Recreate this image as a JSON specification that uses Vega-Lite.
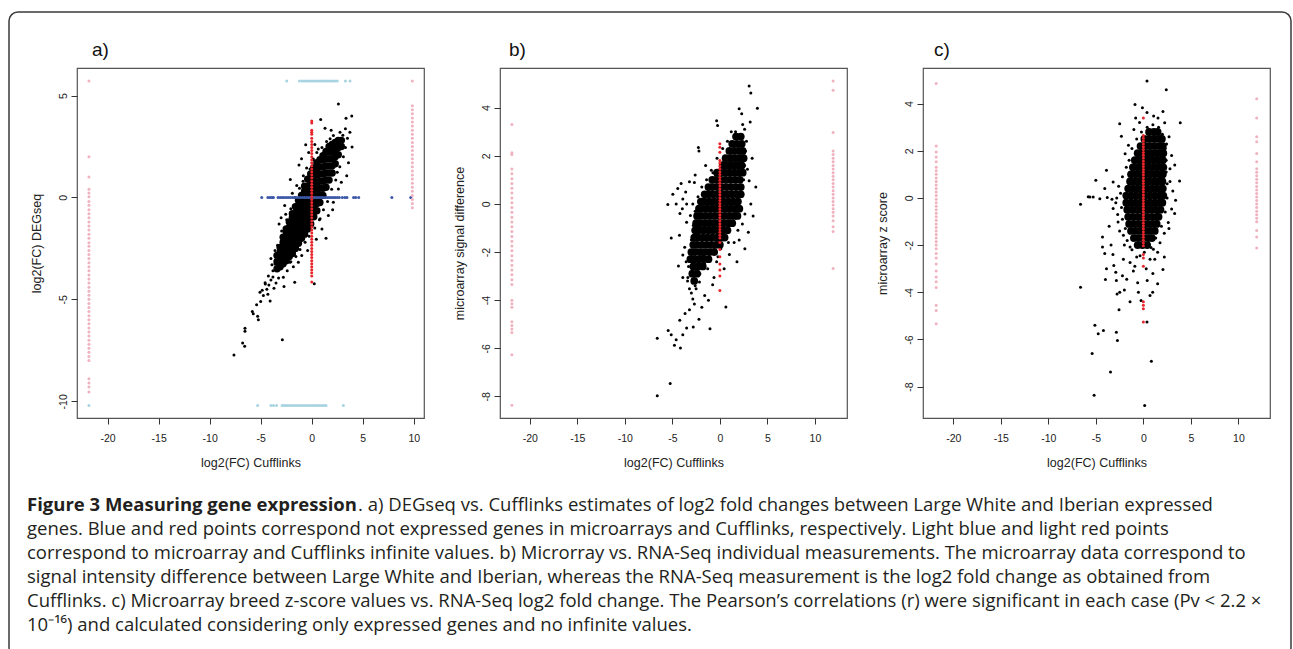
{
"$schema": "https://vega.github.io/schema/vega-lite/v6.json",
"background": "white",
"padding": {"left": 0, "top": 11, "right": 0, "bottom": 0},
"autosize": {"type": "pad"},
"config": {
  "view": {"stroke": "#555555", "strokeWidth": 1.2},
  "axis": {"domain": false, "grid": false, "tickSize": 6, "tickColor": "#333333", "tickWidth": 1, "labelFont": "Liberation Sans", "labelFontSize": 10.5, "labelColor": "#222222", "labelPadding": 9, "labelOverlap": false, "labelFlush": false, "titleFont": "Liberation Sans", "titleFontSize": 12.5, "titleFontWeight": "normal", "titleColor": "#222222", "titlePadding": 13},
  "axisY": {"labelPadding": 3, "titlePadding": 15},
  "title": {"font": "Liberation Sans", "fontSize": 19, "fontWeight": "normal", "color": "#111111", "anchor": "start", "frame": "group", "baseline": "alphabetic", "offset": 8}
},
"datasets": {
"aCore": [
{"x":-3.4,"y":-3.5},{"x":-3.4,"y":-3.15},{"x":-3.4,"y":-2.85},
{"x":-3.1,"y":-3.4},{"x":-3.1,"y":-3.05},{"x":-3.1,"y":-2.7},{"x":-3.1,"y":-2.45},
{"x":-2.8,"y":-3.25},{"x":-2.8,"y":-2.9},{"x":-2.8,"y":-2.55},{"x":-2.8,"y":-2.2},{"x":-2.8,"y":-1.95},
{"x":-2.5,"y":-3.1},{"x":-2.5,"y":-2.75},{"x":-2.5,"y":-2.4},{"x":-2.5,"y":-2.05},{"x":-2.5,"y":-1.7},{"x":-2.5,"y":-1.55},
{"x":-2.2,"y":-2.9},{"x":-2.2,"y":-2.55},{"x":-2.2,"y":-2.2},{"x":-2.2,"y":-1.85},{"x":-2.2,"y":-1.5},{"x":-2.2,"y":-1.2},
{"x":-1.9,"y":-2.75},{"x":-1.9,"y":-2.4},{"x":-1.9,"y":-2.05},{"x":-1.9,"y":-1.7},{"x":-1.9,"y":-1.35},{"x":-1.9,"y":-1.0},{"x":-1.9,"y":-0.8},
{"x":-1.6,"y":-2.5},{"x":-1.6,"y":-2.15},{"x":-1.6,"y":-1.8},{"x":-1.6,"y":-1.45},{"x":-1.6,"y":-1.1},{"x":-1.6,"y":-0.75},{"x":-1.6,"y":-0.45},
{"x":-1.3,"y":-2.25},{"x":-1.3,"y":-1.9},{"x":-1.3,"y":-1.55},{"x":-1.3,"y":-1.2},{"x":-1.3,"y":-0.85},{"x":-1.3,"y":-0.5},{"x":-1.3,"y":-0.15},
{"x":-1.0,"y":-2.0},{"x":-1.0,"y":-1.65},{"x":-1.0,"y":-1.3},{"x":-1.0,"y":-0.95},{"x":-1.0,"y":-0.6},{"x":-1.0,"y":-0.25},{"x":-1.0,"y":0.1},
{"x":-0.7,"y":-1.8},{"x":-0.7,"y":-1.45},{"x":-0.7,"y":-1.1},{"x":-0.7,"y":-0.75},{"x":-0.7,"y":-0.4},{"x":-0.7,"y":-0.05},{"x":-0.7,"y":0.3},{"x":-0.7,"y":0.55},
{"x":-0.4,"y":-1.55},{"x":-0.4,"y":-1.2},{"x":-0.4,"y":-0.85},{"x":-0.4,"y":-0.5},{"x":-0.4,"y":-0.15},{"x":-0.4,"y":0.2},{"x":-0.4,"y":0.55},{"x":-0.4,"y":0.9},
{"x":-0.1,"y":-1.3},{"x":-0.1,"y":-0.95},{"x":-0.1,"y":-0.6},{"x":-0.1,"y":-0.25},{"x":-0.1,"y":0.1},{"x":-0.1,"y":0.45},{"x":-0.1,"y":0.8},{"x":-0.1,"y":1.15},
{"x":0.2,"y":-0.95},{"x":0.2,"y":-0.6},{"x":0.2,"y":-0.25},{"x":0.2,"y":0.1},{"x":0.2,"y":0.45},{"x":0.2,"y":0.8},{"x":0.2,"y":1.15},{"x":0.2,"y":1.45},
{"x":0.5,"y":-0.65},{"x":0.5,"y":-0.3},{"x":0.5,"y":0.05},{"x":0.5,"y":0.4},{"x":0.5,"y":0.75},{"x":0.5,"y":1.1},{"x":0.5,"y":1.45},{"x":0.5,"y":1.7},
{"x":0.8,"y":-0.25},{"x":0.8,"y":0.1},{"x":0.8,"y":0.45},{"x":0.8,"y":0.8},{"x":0.8,"y":1.15},{"x":0.8,"y":1.5},{"x":0.8,"y":1.85},
{"x":1.1,"y":0.1},{"x":1.1,"y":0.45},{"x":1.1,"y":0.8},{"x":1.1,"y":1.15},{"x":1.1,"y":1.5},{"x":1.1,"y":1.85},{"x":1.1,"y":2.05},
{"x":1.4,"y":0.5},{"x":1.4,"y":0.85},{"x":1.4,"y":1.2},{"x":1.4,"y":1.55},{"x":1.4,"y":1.9},{"x":1.4,"y":2.25},
{"x":1.7,"y":0.85},{"x":1.7,"y":1.2},{"x":1.7,"y":1.55},{"x":1.7,"y":1.9},{"x":1.7,"y":2.25},{"x":1.7,"y":2.5},
{"x":2.0,"y":1.2},{"x":2.0,"y":1.55},{"x":2.0,"y":1.9},{"x":2.0,"y":2.25},{"x":2.0,"y":2.6},
{"x":2.3,"y":1.65},{"x":2.3,"y":2.0},{"x":2.3,"y":2.35},{"x":2.3,"y":2.7},
{"x":2.6,"y":2.1},{"x":2.6,"y":2.45},{"x":2.6,"y":2.8},
{"x":2.9,"y":2.5},{"x":2.9,"y":2.8}
],
"a": [
{"x":2.61,"y":4.58,"g":"expr"},{"x":3.92,"y":3.99,"g":"expr"},{"x":3.36,"y":3.89,"g":"expr"},{"x":0.88,"y":3.82,"g":"expr"},{"x":3.3,"y":3.37,"g":"expr"},{"x":3.74,"y":3.2,"g":"expr"},{"x":1.3,"y":3.4,"g":"expr"},{"x":3.95,"y":2.47,"g":"expr"},{"x":-0.59,"y":2.58,"g":"expr"},{"x":-1.25,"y":1.59,"g":"expr"},{"x":-2.1,"y":0.88,"g":"expr"},{"x":-2.55,"y":-0.82,"g":"expr"},{"x":-3.0,"y":-1.0,"g":"expr"},{"x":2.5,"y":1.24,"g":"expr"},{"x":1.4,"y":-2.0,"g":"expr"},{"x":0.25,"y":-4.24,"g":"expr"},{"x":-1.67,"y":-4.16,"g":"expr"},{"x":-2.72,"y":-4.37,"g":"expr"},{"x":-2.88,"y":-6.98,"g":"expr"},{"x":-7.62,"y":-7.73,"g":"expr"},{"x":-6.54,"y":-6.42,"g":"expr"},{"x":-6.54,"y":-6.57,"g":"expr"},{"x":-6.77,"y":-7.14,"g":"expr"},{"x":-6.57,"y":-7.3,"g":"expr"},{"x":-5.82,"y":-5.6,"g":"expr"},{"x":-5.73,"y":-5.7,"g":"expr"},{"x":-5.3,"y":-5.83,"g":"expr"},{"x":-5.23,"y":-6.0,"g":"expr"},{"x":-5.4,"y":-5.27,"g":"expr"},{"x":-5.07,"y":-4.65,"g":"expr"},{"x":-4.74,"y":-4.81,"g":"expr"},{"x":-4.4,"y":-4.5,"g":"expr"},{"x":-4.08,"y":-5.08,"g":"expr"},{"x":-4.57,"y":-4.18,"g":"expr"},{"x":-4.25,"y":-3.85,"g":"expr"},{"x":-3.8,"y":-3.6,"g":"expr"},{"x":-3.5,"y":-4.2,"g":"expr"},{"x":-3.6,"y":-3.26,"g":"expr"},{"x":-2.78,"y":-3.91,"g":"expr"},{"x":-2.13,"y":-3.18,"g":"expr"},{"x":-1.31,"y":-3.18,"g":"expr"},{"x":-0.98,"y":-2.85,"g":"expr"},{"x":0.82,"y":-1.05,"g":"expr"},{"x":1.63,"y":-0.89,"g":"expr"},{"x":2.12,"y":-0.24,"g":"expr"},{"x":2.61,"y":0.41,"g":"expr"},{"x":3.43,"y":1.06,"g":"expr"},{"x":-1.9,"y":0.2,"g":"expr"},{"x":-1.47,"y":0.58,"g":"expr"},{"x":-0.82,"y":1.07,"g":"expr"},{"x":-0.17,"y":1.4,"g":"expr"},{"x":0.16,"y":1.89,"g":"expr"},{"x":0.64,"y":2.38,"g":"expr"},{"x":0.98,"y":2.05,"g":"expr"},{"x":1.8,"y":2.88,"g":"expr"},{"x":2.12,"y":3.04,"g":"expr"},{"x":2.77,"y":3.2,"g":"expr"},
{"x":-3.8,"y":-3.9,"g":"expr"},{"x":-4.0,"y":-4.05,"g":"expr"},{"x":-3.9,"y":-3.3,"g":"expr"},{"x":-4.2,"y":-4.3,"g":"expr"},{"x":-4.55,"y":-4.25,"g":"expr"},{"x":-3.35,"y":-2.35,"g":"expr"},{"x":-2.95,"y":-1.65,"g":"expr"},{"x":-2.45,"y":-1.1,"g":"expr"},{"x":-2.05,"y":-0.55,"g":"expr"},{"x":-1.65,"y":0.0,"g":"expr"},{"x":-1.2,"y":0.45,"g":"expr"},{"x":-0.85,"y":0.8,"g":"expr"},{"x":-0.5,"y":1.45,"g":"expr"},{"x":0.1,"y":1.85,"g":"expr"},{"x":0.5,"y":2.2,"g":"expr"},{"x":1.0,"y":2.45,"g":"expr"},{"x":1.45,"y":2.75,"g":"expr"},{"x":-2.05,"y":-3.15,"g":"expr"},{"x":-1.55,"y":-2.9,"g":"expr"},{"x":-1.15,"y":-2.55,"g":"expr"},{"x":-0.65,"y":-2.2,"g":"expr"},{"x":-0.25,"y":-1.9,"g":"expr"},{"x":0.3,"y":-1.5,"g":"expr"},{"x":0.75,"y":-1.1,"g":"expr"},{"x":1.15,"y":-0.6,"g":"expr"},{"x":1.55,"y":-0.2,"g":"expr"},{"x":1.95,"y":0.4,"g":"expr"},{"x":2.35,"y":0.85,"g":"expr"},{"x":2.75,"y":1.5,"g":"expr"},{"x":3.1,"y":2.0,"g":"expr"},{"x":3.3,"y":2.45,"g":"expr"},{"x":3.05,"y":3.05,"g":"expr"},{"x":-4.85,"y":-4.55,"g":"expr"},{"x":-5.0,"y":-5.1,"g":"expr"},{"x":-4.3,"y":-4.75,"g":"expr"},{"x":-3.7,"y":-4.45,"g":"expr"},{"x":-3.25,"y":-3.95,"g":"expr"},{"x":-2.4,"y":-3.6,"g":"expr"},{"x":-1.8,"y":-3.4,"g":"expr"},{"x":-0.4,"y":-2.6,"g":"expr"},{"x":0.45,"y":-2.05,"g":"expr"},{"x":1.0,"y":-1.55,"g":"expr"},{"x":2.05,"y":-0.6,"g":"expr"},{"x":2.9,"y":0.75,"g":"expr"},{"x":3.6,"y":1.7,"g":"expr"},{"x":3.5,"y":2.9,"g":"expr"},{"x":-2.65,"y":-0.4,"g":"expr"},{"x":-3.2,"y":-1.3,"g":"expr"},{"x":-3.6,"y":-2.6,"g":"expr"},{"x":-4.0,"y":-3.0,"g":"expr"},{"x":-1.0,"y":1.9,"g":"expr"},{"x":-0.3,"y":2.2,"g":"expr"},{"x":0.3,"y":2.6,"g":"expr"},{"x":1.9,"y":3.3,"g":"expr"},
{"x":-4.9,"y":0,"g":"neArr"},{"x":-4.3,"y":0,"g":"neArr"},{"x":-4.1,"y":0,"g":"neArr"},{"x":-3.9,"y":0,"g":"neArr"},{"x":-3.75,"y":0,"g":"neArr"},{"x":-3.3,"y":0,"g":"neArr"},{"x":-3.1,"y":0,"g":"neArr"},{"x":-2.9,"y":0,"g":"neArr"},{"x":-2.72,"y":0,"g":"neArr"},{"x":-2.5,"y":0,"g":"neArr"},{"x":-2.31,"y":0,"g":"neArr"},{"x":-2.1,"y":0,"g":"neArr"},{"x":-1.9,"y":0,"g":"neArr"},{"x":-1.7,"y":0,"g":"neArr"},{"x":-1.52,"y":0,"g":"neArr"},{"x":-1.3,"y":0,"g":"neArr"},{"x":-1.1,"y":0,"g":"neArr"},{"x":-0.9,"y":0,"g":"neArr"},{"x":-0.7,"y":0,"g":"neArr"},{"x":-0.5,"y":0,"g":"neArr"},{"x":-0.3,"y":0,"g":"neArr"},{"x":-0.1,"y":0,"g":"neArr"},{"x":0.1,"y":0,"g":"neArr"},{"x":0.3,"y":0,"g":"neArr"},{"x":0.5,"y":0,"g":"neArr"},{"x":0.7,"y":0,"g":"neArr"},{"x":0.9,"y":0,"g":"neArr"},{"x":1.1,"y":0,"g":"neArr"},{"x":1.3,"y":0,"g":"neArr"},{"x":1.5,"y":0,"g":"neArr"},{"x":1.7,"y":0,"g":"neArr"},{"x":1.9,"y":0,"g":"neArr"},{"x":2.1,"y":0,"g":"neArr"},{"x":2.3,"y":0,"g":"neArr"},{"x":2.5,"y":0,"g":"neArr"},{"x":2.7,"y":0,"g":"neArr"},{"x":3.0,"y":0,"g":"neArr"},{"x":3.25,"y":0,"g":"neArr"},{"x":3.45,"y":0,"g":"neArr"},{"x":4.1,"y":0,"g":"neArr"},{"x":4.3,"y":0,"g":"neArr"},{"x":4.6,"y":0,"g":"neArr"},{"x":7.85,"y":0,"g":"neArr"},{"x":9.7,"y":0,"g":"neArr"},
{"x":0,"y":3.75,"g":"neCuff"},{"x":0,"y":3.65,"g":"neCuff"},{"x":0,"y":3.3,"g":"neCuff"},{"x":0,"y":3.2,"g":"neCuff"},{"x":0,"y":3.1,"g":"neCuff"},{"x":0,"y":2.9,"g":"neCuff"},{"x":0,"y":2.75,"g":"neCuff"},{"x":0,"y":2.6,"g":"neCuff"},{"x":0,"y":2.45,"g":"neCuff"},{"x":0,"y":2.3,"g":"neCuff"},{"x":0,"y":2.15,"g":"neCuff"},{"x":0,"y":2.0,"g":"neCuff"},{"x":0,"y":1.85,"g":"neCuff"},{"x":0,"y":1.7,"g":"neCuff"},{"x":0,"y":1.55,"g":"neCuff"},{"x":0,"y":1.4,"g":"neCuff"},{"x":0,"y":1.25,"g":"neCuff"},{"x":0,"y":1.1,"g":"neCuff"},{"x":0,"y":0.95,"g":"neCuff"},{"x":0,"y":0.8,"g":"neCuff"},{"x":0,"y":0.65,"g":"neCuff"},{"x":0,"y":0.5,"g":"neCuff"},{"x":0,"y":0.35,"g":"neCuff"},{"x":0,"y":0.2,"g":"neCuff"},{"x":0,"y":0.05,"g":"neCuff"},{"x":0,"y":-0.1,"g":"neCuff"},{"x":0,"y":-0.25,"g":"neCuff"},{"x":0,"y":-0.4,"g":"neCuff"},{"x":0,"y":-0.55,"g":"neCuff"},{"x":0,"y":-0.7,"g":"neCuff"},{"x":0,"y":-0.85,"g":"neCuff"},{"x":0,"y":-1.0,"g":"neCuff"},{"x":0,"y":-1.15,"g":"neCuff"},{"x":0,"y":-1.3,"g":"neCuff"},{"x":0,"y":-1.45,"g":"neCuff"},{"x":0,"y":-1.6,"g":"neCuff"},{"x":0,"y":-1.75,"g":"neCuff"},{"x":0,"y":-1.9,"g":"neCuff"},{"x":0,"y":-2.05,"g":"neCuff"},{"x":0,"y":-2.2,"g":"neCuff"},{"x":0,"y":-2.35,"g":"neCuff"},{"x":0,"y":-2.5,"g":"neCuff"},{"x":0,"y":-2.65,"g":"neCuff"},{"x":0,"y":-2.8,"g":"neCuff"},{"x":0,"y":-2.95,"g":"neCuff"},{"x":0,"y":-3.1,"g":"neCuff"},{"x":0,"y":-3.25,"g":"neCuff"},{"x":0,"y":-3.4,"g":"neCuff"},{"x":0,"y":-3.55,"g":"neCuff"},{"x":0,"y":-3.7,"g":"neCuff"},{"x":0,"y":-3.85,"g":"neCuff"},{"x":0,"y":-4.15,"g":"neCuff"},
{"x":-21.83,"y":5.71,"g":"infCuff"},{"x":-21.83,"y":2.0,"g":"infCuff"},{"x":-21.83,"y":1.0,"g":"infCuff"},{"x":-21.83,"y":0.4,"g":"infCuff"},{"x":-21.83,"y":0.22,"g":"infCuff"},{"x":-21.83,"y":0.03,"g":"infCuff"},{"x":-21.83,"y":-0.2,"g":"infCuff"},{"x":-21.83,"y":-0.38,"g":"infCuff"},{"x":-21.83,"y":-0.6,"g":"infCuff"},{"x":-21.83,"y":-0.8,"g":"infCuff"},{"x":-21.83,"y":-1.0,"g":"infCuff"},{"x":-21.83,"y":-1.21,"g":"infCuff"},{"x":-21.83,"y":-1.4,"g":"infCuff"},{"x":-21.83,"y":-1.6,"g":"infCuff"},{"x":-21.83,"y":-1.8,"g":"infCuff"},{"x":-21.83,"y":-2.0,"g":"infCuff"},{"x":-21.83,"y":-2.22,"g":"infCuff"},{"x":-21.83,"y":-2.4,"g":"infCuff"},{"x":-21.83,"y":-2.6,"g":"infCuff"},{"x":-21.83,"y":-2.8,"g":"infCuff"},{"x":-21.83,"y":-3.0,"g":"infCuff"},{"x":-21.83,"y":-3.2,"g":"infCuff"},{"x":-21.83,"y":-3.4,"g":"infCuff"},{"x":-21.83,"y":-3.6,"g":"infCuff"},{"x":-21.83,"y":-3.8,"g":"infCuff"},{"x":-21.83,"y":-4.0,"g":"infCuff"},{"x":-21.83,"y":-4.2,"g":"infCuff"},{"x":-21.83,"y":-4.4,"g":"infCuff"},{"x":-21.83,"y":-4.6,"g":"infCuff"},{"x":-21.83,"y":-4.8,"g":"infCuff"},{"x":-21.83,"y":-5.0,"g":"infCuff"},{"x":-21.83,"y":-5.2,"g":"infCuff"},{"x":-21.83,"y":-5.4,"g":"infCuff"},{"x":-21.83,"y":-5.6,"g":"infCuff"},{"x":-21.83,"y":-5.8,"g":"infCuff"},{"x":-21.83,"y":-6.0,"g":"infCuff"},{"x":-21.83,"y":-6.2,"g":"infCuff"},{"x":-21.83,"y":-6.4,"g":"infCuff"},{"x":-21.83,"y":-6.6,"g":"infCuff"},{"x":-21.83,"y":-6.8,"g":"infCuff"},{"x":-21.83,"y":-7.0,"g":"infCuff"},{"x":-21.83,"y":-7.2,"g":"infCuff"},{"x":-21.83,"y":-7.4,"g":"infCuff"},{"x":-21.83,"y":-7.6,"g":"infCuff"},{"x":-21.83,"y":-7.8,"g":"infCuff"},{"x":-21.83,"y":-8.0,"g":"infCuff"},{"x":-21.83,"y":-8.9,"g":"infCuff"},{"x":-21.83,"y":-9.1,"g":"infCuff"},{"x":-21.83,"y":-9.3,"g":"infCuff"},{"x":-21.83,"y":-9.55,"g":"infCuff"},
{"x":9.86,"y":5.71,"g":"infCuff"},{"x":9.86,"y":4.5,"g":"infCuff"},{"x":9.86,"y":4.3,"g":"infCuff"},{"x":9.86,"y":4.1,"g":"infCuff"},{"x":9.86,"y":3.9,"g":"infCuff"},{"x":9.86,"y":3.7,"g":"infCuff"},{"x":9.86,"y":3.5,"g":"infCuff"},{"x":9.86,"y":3.3,"g":"infCuff"},{"x":9.86,"y":3.1,"g":"infCuff"},{"x":9.86,"y":2.9,"g":"infCuff"},{"x":9.86,"y":2.7,"g":"infCuff"},{"x":9.86,"y":2.5,"g":"infCuff"},{"x":9.86,"y":2.3,"g":"infCuff"},{"x":9.86,"y":2.1,"g":"infCuff"},{"x":9.86,"y":1.9,"g":"infCuff"},{"x":9.86,"y":1.7,"g":"infCuff"},{"x":9.86,"y":1.5,"g":"infCuff"},{"x":9.86,"y":1.3,"g":"infCuff"},{"x":9.86,"y":1.1,"g":"infCuff"},{"x":9.86,"y":0.9,"g":"infCuff"},{"x":9.86,"y":0.7,"g":"infCuff"},{"x":9.86,"y":0.5,"g":"infCuff"},{"x":9.86,"y":0.3,"g":"infCuff"},{"x":9.86,"y":0.1,"g":"infCuff"},{"x":9.86,"y":-0.1,"g":"infCuff"},{"x":9.86,"y":-0.3,"g":"infCuff"},{"x":9.86,"y":-0.5,"g":"infCuff"},
{"x":-2.45,"y":5.71,"g":"infArr"},{"x":-1.2,"y":5.71,"g":"infArr"},{"x":-0.95,"y":5.71,"g":"infArr"},{"x":-0.75,"y":5.71,"g":"infArr"},{"x":-0.55,"y":5.71,"g":"infArr"},{"x":-0.35,"y":5.71,"g":"infArr"},{"x":-0.15,"y":5.71,"g":"infArr"},{"x":0.05,"y":5.71,"g":"infArr"},{"x":0.25,"y":5.71,"g":"infArr"},{"x":0.45,"y":5.71,"g":"infArr"},{"x":0.65,"y":5.71,"g":"infArr"},{"x":0.85,"y":5.71,"g":"infArr"},{"x":1.05,"y":5.71,"g":"infArr"},{"x":1.25,"y":5.71,"g":"infArr"},{"x":1.45,"y":5.71,"g":"infArr"},{"x":1.65,"y":5.71,"g":"infArr"},{"x":1.85,"y":5.71,"g":"infArr"},{"x":2.05,"y":5.71,"g":"infArr"},{"x":2.25,"y":5.71,"g":"infArr"},{"x":2.5,"y":5.71,"g":"infArr"},{"x":3.3,"y":5.71,"g":"infArr"},{"x":3.75,"y":5.71,"g":"infArr"},
{"x":-21.83,"y":-10.21,"g":"infArr"},{"x":-5.3,"y":-10.21,"g":"infArr"},{"x":-4.0,"y":-10.21,"g":"infArr"},{"x":-3.75,"y":-10.21,"g":"infArr"},{"x":-3.45,"y":-10.21,"g":"infArr"},{"x":-2.9,"y":-10.21,"g":"infArr"},{"x":-2.75,"y":-10.21,"g":"infArr"},{"x":-2.6,"y":-10.21,"g":"infArr"},{"x":-2.4,"y":-10.21,"g":"infArr"},{"x":-2.2,"y":-10.21,"g":"infArr"},{"x":-2.0,"y":-10.21,"g":"infArr"},{"x":-1.8,"y":-10.21,"g":"infArr"},{"x":-1.6,"y":-10.21,"g":"infArr"},{"x":-1.4,"y":-10.21,"g":"infArr"},{"x":-1.2,"y":-10.21,"g":"infArr"},{"x":-1.0,"y":-10.21,"g":"infArr"},{"x":-0.8,"y":-10.21,"g":"infArr"},{"x":-0.6,"y":-10.21,"g":"infArr"},{"x":-0.4,"y":-10.21,"g":"infArr"},{"x":-0.2,"y":-10.21,"g":"infArr"},{"x":0.0,"y":-10.21,"g":"infArr"},{"x":0.2,"y":-10.21,"g":"infArr"},{"x":0.4,"y":-10.21,"g":"infArr"},{"x":0.6,"y":-10.21,"g":"infArr"},{"x":0.8,"y":-10.21,"g":"infArr"},{"x":1.0,"y":-10.21,"g":"infArr"},{"x":1.2,"y":-10.21,"g":"infArr"},{"x":1.4,"y":-10.21,"g":"infArr"},{"x":3.1,"y":-10.21,"g":"infArr"}
],
"bCore": [
{"x":1.7,"y":2.8},{"x":2.2,"y":2.8},
{"x":1.3,"y":2.5},{"x":1.8,"y":2.5},{"x":2.3,"y":2.5},
{"x":1.0,"y":2.2},{"x":1.5,"y":2.2},{"x":2.0,"y":2.2},{"x":2.4,"y":2.2},
{"x":0.6,"y":1.9},{"x":1.1,"y":1.9},{"x":1.6,"y":1.9},{"x":2.1,"y":1.9},{"x":2.5,"y":1.9},
{"x":0.3,"y":1.6},{"x":0.8,"y":1.6},{"x":1.3,"y":1.6},{"x":1.8,"y":1.6},{"x":2.3,"y":1.6},
{"x":-0.3,"y":1.3},{"x":0.0,"y":1.3},{"x":0.5,"y":1.3},{"x":1.0,"y":1.3},{"x":1.5,"y":1.3},{"x":2.0,"y":1.3},{"x":2.4,"y":1.3},
{"x":-0.8,"y":1.0},{"x":-0.4,"y":1.0},{"x":0.1,"y":1.0},{"x":0.6,"y":1.0},{"x":1.1,"y":1.0},{"x":1.6,"y":1.0},{"x":2.1,"y":1.0},
{"x":-1.2,"y":0.7},{"x":-0.8,"y":0.7},{"x":-0.3,"y":0.7},{"x":0.2,"y":0.7},{"x":0.7,"y":0.7},{"x":1.2,"y":0.7},{"x":1.7,"y":0.7},{"x":2.2,"y":0.7},
{"x":-1.6,"y":0.4},{"x":-1.2,"y":0.4},{"x":-0.7,"y":0.4},{"x":-0.2,"y":0.4},{"x":0.3,"y":0.4},{"x":0.8,"y":0.4},{"x":1.3,"y":0.4},{"x":1.8,"y":0.4},{"x":2.2,"y":0.4},
{"x":-2.0,"y":0.1},{"x":-1.6,"y":0.1},{"x":-1.1,"y":0.1},{"x":-0.6,"y":0.1},{"x":-0.1,"y":0.1},{"x":0.4,"y":0.1},{"x":0.9,"y":0.1},{"x":1.4,"y":0.1},{"x":1.9,"y":0.1},
{"x":-2.2,"y":-0.2},{"x":-1.8,"y":-0.2},{"x":-1.3,"y":-0.2},{"x":-0.8,"y":-0.2},{"x":-0.3,"y":-0.2},{"x":0.2,"y":-0.2},{"x":0.7,"y":-0.2},{"x":1.2,"y":-0.2},{"x":1.7,"y":-0.2},{"x":2.05,"y":-0.2},
{"x":-2.4,"y":-0.5},{"x":-2.0,"y":-0.5},{"x":-1.5,"y":-0.5},{"x":-1.0,"y":-0.5},{"x":-0.5,"y":-0.5},{"x":0.0,"y":-0.5},{"x":0.5,"y":-0.5},{"x":1.0,"y":-0.5},{"x":1.5,"y":-0.5},{"x":1.85,"y":-0.5},
{"x":-2.5,"y":-0.8},{"x":-2.1,"y":-0.8},{"x":-1.6,"y":-0.8},{"x":-1.1,"y":-0.8},{"x":-0.6,"y":-0.8},{"x":-0.1,"y":-0.8},{"x":0.4,"y":-0.8},{"x":0.9,"y":-0.8},{"x":1.3,"y":-0.8},
{"x":-2.6,"y":-1.1},{"x":-2.2,"y":-1.1},{"x":-1.7,"y":-1.1},{"x":-1.2,"y":-1.1},{"x":-0.7,"y":-1.1},{"x":-0.2,"y":-1.1},{"x":0.3,"y":-1.1},{"x":0.8,"y":-1.1},
{"x":-2.7,"y":-1.4},{"x":-2.3,"y":-1.4},{"x":-1.8,"y":-1.4},{"x":-1.3,"y":-1.4},{"x":-0.8,"y":-1.4},{"x":-0.3,"y":-1.4},{"x":0.2,"y":-1.4},{"x":0.5,"y":-1.4},
{"x":-2.8,"y":-1.7},{"x":-2.4,"y":-1.7},{"x":-1.9,"y":-1.7},{"x":-1.4,"y":-1.7},{"x":-0.9,"y":-1.7},{"x":-0.4,"y":-1.7},{"x":0.0,"y":-1.7},
{"x":-3.0,"y":-2.0},{"x":-2.6,"y":-2.0},{"x":-2.1,"y":-2.0},{"x":-1.6,"y":-2.0},{"x":-1.1,"y":-2.0},{"x":-0.6,"y":-2.0},
{"x":-3.1,"y":-2.3},{"x":-2.7,"y":-2.3},{"x":-2.2,"y":-2.3},{"x":-1.7,"y":-2.3},{"x":-1.2,"y":-2.3},
{"x":-2.8,"y":-2.6},{"x":-2.3,"y":-2.6},{"x":-1.8,"y":-2.6},
{"x":-2.9,"y":-2.9},{"x":-2.4,"y":-2.9},
{"x":-2.7,"y":-3.2}
],
"b": [
{"x":3.08,"y":4.9,"g":"expr"},{"x":3.26,"y":4.61,"g":"expr"},{"x":3.95,"y":3.98,"g":"expr"},{"x":2.03,"y":3.96,"g":"expr"},{"x":2.3,"y":3.75,"g":"expr"},{"x":3.19,"y":3.4,"g":"expr"},{"x":-0.34,"y":3.46,"g":"expr"},{"x":-0.24,"y":3.26,"g":"expr"},{"x":-2.26,"y":2.35,"g":"expr"},{"x":1.65,"y":3.0,"g":"expr"},{"x":3.78,"y":0.7,"g":"expr"},{"x":3.26,"y":0.0,"g":"expr"},{"x":3.0,"y":-1.18,"g":"expr"},{"x":2.03,"y":-1.5,"g":"expr"},{"x":2.63,"y":-1.86,"g":"expr"},{"x":1.0,"y":-2.1,"g":"expr"},{"x":-0.34,"y":-2.4,"g":"expr"},{"x":0.45,"y":-2.7,"g":"expr"},{"x":-0.62,"y":-3.06,"g":"expr"},{"x":-0.76,"y":-3.36,"g":"expr"},{"x":0.63,"y":-4.29,"g":"expr"},{"x":-1.04,"y":-5.19,"g":"expr"},{"x":-2.68,"y":-2.97,"g":"expr"},{"x":-2.85,"y":-3.25,"g":"expr"},{"x":-3.2,"y":-3.53,"g":"expr"},{"x":-3.37,"y":-3.06,"g":"expr"},{"x":-3.9,"y":-3.06,"g":"expr"},{"x":-4.36,"y":-2.58,"g":"expr"},{"x":-2.85,"y":-3.95,"g":"expr"},{"x":-2.68,"y":-4.16,"g":"expr"},{"x":-3.66,"y":-4.56,"g":"expr"},{"x":-4.22,"y":-4.84,"g":"expr"},{"x":-2.8,"y":-5.12,"g":"expr"},{"x":-3.5,"y":-5.16,"g":"expr"},{"x":-3.9,"y":-5.44,"g":"expr"},{"x":-5.44,"y":-5.26,"g":"expr"},{"x":-5.12,"y":-5.44,"g":"expr"},{"x":-4.6,"y":-5.65,"g":"expr"},{"x":-4.78,"y":-5.88,"g":"expr"},{"x":-4.15,"y":-5.99,"g":"expr"},{"x":-6.59,"y":-5.58,"g":"expr"},{"x":-5.23,"y":-7.47,"g":"expr"},{"x":-6.59,"y":-7.97,"g":"expr"},{"x":-3.55,"y":-2.4,"g":"expr"},{"x":-3.9,"y":-2.12,"g":"expr"},{"x":-5.12,"y":-1.42,"g":"expr"},{"x":-4.25,"y":-1.3,"g":"expr"},{"x":-5.48,"y":-0.02,"g":"expr"},{"x":-4.95,"y":0.4,"g":"expr"},{"x":-4.43,"y":0.64,"g":"expr"},{"x":-4.08,"y":0.85,"g":"expr"},{"x":-3.2,"y":0.92,"g":"expr"},{"x":-2.68,"y":0.89,"g":"expr"},{"x":-3.9,"y":0.2,"g":"expr"},{"x":-3.5,"y":0.0,"g":"expr"},{"x":-2.85,"y":0.0,"g":"expr"},{"x":-4.6,"y":0.0,"g":"expr"},{"x":-3.95,"y":-0.2,"g":"expr"},{"x":-3.5,"y":-0.76,"g":"expr"},{"x":-3.1,"y":-0.48,"g":"expr"},{"x":-2.5,"y":-1.03,"g":"expr"},{"x":-2.2,"y":2.2,"g":"expr"},{"x":-0.73,"y":1.3,"g":"expr"},{"x":0.3,"y":1.72,"g":"expr"},{"x":1.17,"y":2.0,"g":"expr"},{"x":2.57,"y":2.13,"g":"expr"},{"x":2.9,"y":1.44,"g":"expr"},{"x":3.08,"y":0.96,"g":"expr"},{"x":2.63,"y":-0.42,"g":"expr"},{"x":2.37,"y":-0.83,"g":"expr"},{"x":1.5,"y":-1.6,"g":"expr"},{"x":0.1,"y":-1.86,"g":"expr"},{"x":-1.45,"y":-1.72,"g":"expr"},{"x":-1.8,"y":-2.14,"g":"expr"},{"x":-1.28,"y":-2.7,"g":"expr"},{"x":-2.15,"y":-3.25,"g":"expr"},{"x":-1.6,"y":-3.81,"g":"expr"},{"x":-2.5,"y":-3.53,"g":"expr"},
{"x":2.6,"y":3.1,"g":"expr"},{"x":2.4,"y":3.3,"g":"expr"},{"x":1.2,"y":3.0,"g":"expr"},{"x":0.8,"y":2.6,"g":"expr"},{"x":0.3,"y":2.3,"g":"expr"},{"x":-0.3,"y":1.9,"g":"expr"},{"x":-0.9,"y":1.4,"g":"expr"},{"x":-1.4,"y":1.0,"g":"expr"},{"x":-1.9,"y":0.7,"g":"expr"},{"x":-2.3,"y":0.3,"g":"expr"},{"x":-2.6,"y":-0.3,"g":"expr"},{"x":-2.8,"y":-0.9,"g":"expr"},{"x":-3.0,"y":-1.5,"g":"expr"},{"x":-3.1,"y":-2.0,"g":"expr"},{"x":-3.3,"y":-2.6,"g":"expr"},{"x":-3.4,"y":-3.2,"g":"expr"},{"x":-3.0,"y":-3.7,"g":"expr"},{"x":-2.6,"y":-3.4,"g":"expr"},{"x":-2.1,"y":-2.9,"g":"expr"},{"x":-1.6,"y":-2.5,"g":"expr"},{"x":-1.1,"y":-2.2,"g":"expr"},{"x":-0.6,"y":-1.9,"g":"expr"},{"x":-0.1,"y":-1.5,"g":"expr"},{"x":0.4,"y":-1.2,"g":"expr"},{"x":0.9,"y":-0.9,"g":"expr"},{"x":1.4,"y":-0.5,"g":"expr"},{"x":1.8,"y":-0.1,"g":"expr"},{"x":2.2,"y":0.4,"g":"expr"},{"x":2.5,"y":1.0,"g":"expr"},{"x":2.6,"y":1.6,"g":"expr"},{"x":2.7,"y":2.2,"g":"expr"},{"x":2.8,"y":2.6,"g":"expr"},{"x":-1.5,"y":1.6,"g":"expr"},{"x":-2.6,"y":1.2,"g":"expr"},{"x":-3.6,"y":0.5,"g":"expr"},{"x":-4.2,"y":-0.4,"g":"expr"},{"x":-3.7,"y":-1.8,"g":"expr"},{"x":-2.9,"y":-2.4,"g":"expr"},{"x":1.9,"y":-1.1,"g":"expr"},{"x":0.9,"y":-1.6,"g":"expr"},{"x":-0.2,"y":-2.2,"g":"expr"},{"x":3.4,"y":1.9,"g":"expr"},{"x":3.5,"y":-0.5,"g":"expr"},{"x":1.8,"y":-2.4,"g":"expr"},{"x":-1.9,"y":-4.3,"g":"expr"},{"x":-3.2,"y":-4.4,"g":"expr"},{"x":-1.2,"y":-4.0,"g":"expr"},{"x":-2.2,"y":-4.8,"g":"expr"},
{"x":0,"y":2.5,"g":"neCuff"},{"x":0,"y":2.36,"g":"neCuff"},{"x":0,"y":2.15,"g":"neCuff"},{"x":0,"y":1.8,"g":"neCuff"},{"x":0,"y":1.7,"g":"neCuff"},{"x":0,"y":1.58,"g":"neCuff"},{"x":0,"y":1.46,"g":"neCuff"},{"x":0,"y":1.34,"g":"neCuff"},{"x":0,"y":1.22,"g":"neCuff"},{"x":0,"y":1.1,"g":"neCuff"},{"x":0,"y":0.98,"g":"neCuff"},{"x":0,"y":0.86,"g":"neCuff"},{"x":0,"y":0.74,"g":"neCuff"},{"x":0,"y":0.62,"g":"neCuff"},{"x":0,"y":0.5,"g":"neCuff"},{"x":0,"y":0.38,"g":"neCuff"},{"x":0,"y":0.26,"g":"neCuff"},{"x":0,"y":0.14,"g":"neCuff"},{"x":0,"y":0.02,"g":"neCuff"},{"x":0,"y":-0.1,"g":"neCuff"},{"x":0,"y":-0.22,"g":"neCuff"},{"x":0,"y":-0.34,"g":"neCuff"},{"x":0,"y":-0.46,"g":"neCuff"},{"x":0,"y":-0.58,"g":"neCuff"},{"x":0,"y":-0.7,"g":"neCuff"},{"x":0,"y":-0.82,"g":"neCuff"},{"x":0,"y":-0.94,"g":"neCuff"},{"x":0,"y":-1.06,"g":"neCuff"},{"x":0,"y":-1.18,"g":"neCuff"},{"x":0,"y":-1.3,"g":"neCuff"},{"x":0,"y":-1.42,"g":"neCuff"},{"x":0,"y":-1.6,"g":"neCuff"},{"x":0,"y":-1.9,"g":"neCuff"},{"x":0,"y":-2.2,"g":"neCuff"},{"x":0,"y":-2.5,"g":"neCuff"},{"x":0,"y":-2.75,"g":"neCuff"},{"x":0,"y":-3.0,"g":"neCuff"},{"x":0,"y":-3.6,"g":"neCuff"},
{"x":-21.89,"y":3.3,"g":"infCuff"},{"x":-21.89,"y":2.13,"g":"infCuff"},{"x":-21.89,"y":2.05,"g":"infCuff"},{"x":-21.89,"y":1.45,"g":"infCuff"},{"x":-21.89,"y":1.25,"g":"infCuff"},{"x":-21.89,"y":1.05,"g":"infCuff"},{"x":-21.89,"y":0.85,"g":"infCuff"},{"x":-21.89,"y":0.65,"g":"infCuff"},{"x":-21.89,"y":0.45,"g":"infCuff"},{"x":-21.89,"y":0.25,"g":"infCuff"},{"x":-21.89,"y":0.05,"g":"infCuff"},{"x":-21.89,"y":-0.15,"g":"infCuff"},{"x":-21.89,"y":-0.35,"g":"infCuff"},{"x":-21.89,"y":-0.55,"g":"infCuff"},{"x":-21.89,"y":-0.75,"g":"infCuff"},{"x":-21.89,"y":-0.95,"g":"infCuff"},{"x":-21.89,"y":-1.15,"g":"infCuff"},{"x":-21.89,"y":-1.35,"g":"infCuff"},{"x":-21.89,"y":-1.55,"g":"infCuff"},{"x":-21.89,"y":-1.75,"g":"infCuff"},{"x":-21.89,"y":-1.95,"g":"infCuff"},{"x":-21.89,"y":-2.15,"g":"infCuff"},{"x":-21.89,"y":-2.35,"g":"infCuff"},{"x":-21.89,"y":-2.55,"g":"infCuff"},{"x":-21.89,"y":-2.75,"g":"infCuff"},{"x":-21.89,"y":-2.95,"g":"infCuff"},{"x":-21.89,"y":-3.15,"g":"infCuff"},{"x":-21.89,"y":-3.35,"g":"infCuff"},{"x":-21.89,"y":-4.0,"g":"infCuff"},{"x":-21.89,"y":-4.15,"g":"infCuff"},{"x":-21.89,"y":-4.3,"g":"infCuff"},{"x":-21.89,"y":-4.9,"g":"infCuff"},{"x":-21.89,"y":-5.05,"g":"infCuff"},{"x":-21.89,"y":-5.2,"g":"infCuff"},{"x":-21.89,"y":-5.35,"g":"infCuff"},{"x":-21.89,"y":-6.27,"g":"infCuff"},{"x":-21.89,"y":-8.37,"g":"infCuff"},
{"x":11.92,"y":5.11,"g":"infCuff"},{"x":11.92,"y":4.72,"g":"infCuff"},{"x":11.92,"y":2.97,"g":"infCuff"},{"x":11.92,"y":2.2,"g":"infCuff"},{"x":11.92,"y":2.05,"g":"infCuff"},{"x":11.92,"y":1.9,"g":"infCuff"},{"x":11.92,"y":1.75,"g":"infCuff"},{"x":11.92,"y":1.6,"g":"infCuff"},{"x":11.92,"y":1.45,"g":"infCuff"},{"x":11.92,"y":1.3,"g":"infCuff"},{"x":11.92,"y":1.15,"g":"infCuff"},{"x":11.92,"y":1.0,"g":"infCuff"},{"x":11.92,"y":0.85,"g":"infCuff"},{"x":11.92,"y":0.7,"g":"infCuff"},{"x":11.92,"y":0.55,"g":"infCuff"},{"x":11.92,"y":0.4,"g":"infCuff"},{"x":11.92,"y":0.25,"g":"infCuff"},{"x":11.92,"y":0.1,"g":"infCuff"},{"x":11.92,"y":-0.05,"g":"infCuff"},{"x":11.92,"y":-0.2,"g":"infCuff"},{"x":11.92,"y":-0.35,"g":"infCuff"},{"x":11.92,"y":-0.5,"g":"infCuff"},{"x":11.92,"y":-0.7,"g":"infCuff"},{"x":11.92,"y":-0.95,"g":"infCuff"},{"x":11.92,"y":-1.15,"g":"infCuff"},{"x":11.92,"y":-2.69,"g":"infCuff"}
],
"cCore": [
{"x":0.6,"y":2.8},{"x":1.1,"y":2.8},{"x":1.5,"y":2.8},
{"x":0.1,"y":2.5},{"x":0.6,"y":2.5},{"x":1.1,"y":2.5},{"x":1.6,"y":2.5},{"x":1.95,"y":2.5},
{"x":-0.3,"y":2.2},{"x":0.2,"y":2.2},{"x":0.7,"y":2.2},{"x":1.2,"y":2.2},{"x":1.7,"y":2.2},{"x":2.05,"y":2.2},
{"x":-0.6,"y":1.9},{"x":-0.1,"y":1.9},{"x":0.4,"y":1.9},{"x":0.9,"y":1.9},{"x":1.4,"y":1.9},{"x":1.9,"y":1.9},{"x":2.1,"y":1.9},
{"x":-0.9,"y":1.6},{"x":-0.4,"y":1.6},{"x":0.1,"y":1.6},{"x":0.6,"y":1.6},{"x":1.1,"y":1.6},{"x":1.6,"y":1.6},{"x":2.05,"y":1.6},
{"x":-1.1,"y":1.3},{"x":-0.6,"y":1.3},{"x":-0.1,"y":1.3},{"x":0.4,"y":1.3},{"x":0.9,"y":1.3},{"x":1.4,"y":1.3},{"x":1.9,"y":1.3},{"x":2.1,"y":1.3},
{"x":-1.3,"y":1.0},{"x":-0.8,"y":1.0},{"x":-0.3,"y":1.0},{"x":0.2,"y":1.0},{"x":0.7,"y":1.0},{"x":1.2,"y":1.0},{"x":1.7,"y":1.0},{"x":2.05,"y":1.0},
{"x":-1.4,"y":0.7},{"x":-0.9,"y":0.7},{"x":-0.4,"y":0.7},{"x":0.1,"y":0.7},{"x":0.6,"y":0.7},{"x":1.1,"y":0.7},{"x":1.6,"y":0.7},{"x":2.0,"y":0.7},
{"x":-1.6,"y":0.4},{"x":-1.1,"y":0.4},{"x":-0.6,"y":0.4},{"x":-0.1,"y":0.4},{"x":0.4,"y":0.4},{"x":0.9,"y":0.4},{"x":1.4,"y":0.4},{"x":1.9,"y":0.4},{"x":2.05,"y":0.4},
{"x":-1.8,"y":0.1},{"x":-1.3,"y":0.1},{"x":-0.8,"y":0.1},{"x":-0.3,"y":0.1},{"x":0.2,"y":0.1},{"x":0.7,"y":0.1},{"x":1.2,"y":0.1},{"x":1.7,"y":0.1},{"x":2.1,"y":0.1},
{"x":-1.8,"y":-0.2},{"x":-1.3,"y":-0.2},{"x":-0.8,"y":-0.2},{"x":-0.3,"y":-0.2},{"x":0.2,"y":-0.2},{"x":0.7,"y":-0.2},{"x":1.2,"y":-0.2},{"x":1.7,"y":-0.2},{"x":2.0,"y":-0.2},
{"x":-1.7,"y":-0.5},{"x":-1.2,"y":-0.5},{"x":-0.7,"y":-0.5},{"x":-0.2,"y":-0.5},{"x":0.3,"y":-0.5},{"x":0.8,"y":-0.5},{"x":1.3,"y":-0.5},{"x":1.8,"y":-0.5},
{"x":-1.6,"y":-0.8},{"x":-1.1,"y":-0.8},{"x":-0.6,"y":-0.8},{"x":-0.1,"y":-0.8},{"x":0.4,"y":-0.8},{"x":0.9,"y":-0.8},{"x":1.4,"y":-0.8},{"x":1.6,"y":-0.8},
{"x":-1.5,"y":-1.1},{"x":-1.0,"y":-1.1},{"x":-0.5,"y":-1.1},{"x":0.0,"y":-1.1},{"x":0.5,"y":-1.1},{"x":1.0,"y":-1.1},{"x":1.4,"y":-1.1},
{"x":-1.3,"y":-1.4},{"x":-0.8,"y":-1.4},{"x":-0.3,"y":-1.4},{"x":0.2,"y":-1.4},{"x":0.7,"y":-1.4},{"x":1.2,"y":-1.4},
{"x":-1.0,"y":-1.7},{"x":-0.5,"y":-1.7},{"x":0.0,"y":-1.7},{"x":0.5,"y":-1.7},{"x":0.9,"y":-1.7},
{"x":-0.6,"y":-2.0},{"x":-0.1,"y":-2.0},{"x":0.4,"y":-2.0}
],
"c": [
{"x":0.38,"y":4.96,"g":"expr"},{"x":2.41,"y":4.59,"g":"expr"},{"x":-0.88,"y":3.96,"g":"expr"},{"x":-0.1,"y":3.82,"g":"expr"},{"x":0.38,"y":3.62,"g":"expr"},{"x":-2.49,"y":3.15,"g":"expr"},{"x":-0.81,"y":3.39,"g":"expr"},{"x":1.08,"y":3.47,"g":"expr"},{"x":1.54,"y":3.39,"g":"expr"},{"x":2.06,"y":3.67,"g":"expr"},{"x":2.24,"y":3.19,"g":"expr"},{"x":3.88,"y":3.19,"g":"expr"},{"x":-2.31,"y":2.62,"g":"expr"},{"x":-3.88,"y":1.17,"g":"expr"},{"x":-5.0,"y":0.75,"g":"expr"},{"x":-5.63,"y":0.04,"g":"expr"},{"x":-6.61,"y":-0.27,"g":"expr"},{"x":-5.28,"y":0.04,"g":"expr"},{"x":-4.58,"y":-0.03,"g":"expr"},{"x":-4.06,"y":0.4,"g":"expr"},{"x":-3.18,"y":0.68,"g":"expr"},{"x":3.81,"y":0.72,"g":"expr"},{"x":3.39,"y":-0.1,"g":"expr"},{"x":3.29,"y":-0.66,"g":"expr"},{"x":2.69,"y":-1.3,"g":"expr"},{"x":-4.3,"y":-1.66,"g":"expr"},{"x":-4.3,"y":-2.08,"g":"expr"},{"x":-4.06,"y":-2.36,"g":"expr"},{"x":-3.88,"y":-3.0,"g":"expr"},{"x":-3.99,"y":-3.46,"g":"expr"},{"x":-3.11,"y":-2.86,"g":"expr"},{"x":-2.9,"y":-3.15,"g":"expr"},{"x":-2.84,"y":-3.5,"g":"expr"},{"x":-2.77,"y":-4.07,"g":"expr"},{"x":-2.49,"y":-4.0,"g":"expr"},{"x":-2.56,"y":-4.74,"g":"expr"},{"x":-6.61,"y":-3.79,"g":"expr"},{"x":-2.84,"y":-5.69,"g":"expr"},{"x":-2.73,"y":-6.04,"g":"expr"},{"x":-5.1,"y":-5.4,"g":"expr"},{"x":-4.75,"y":-5.76,"g":"expr"},{"x":-4.2,"y":-5.62,"g":"expr"},{"x":-5.39,"y":-6.6,"g":"expr"},{"x":-3.46,"y":-7.38,"g":"expr"},{"x":0.84,"y":-6.92,"g":"expr"},{"x":-5.18,"y":-8.37,"g":"expr"},{"x":0.14,"y":-8.8,"g":"expr"},{"x":0.38,"y":-5.26,"g":"expr"},{"x":-0.52,"y":-4.0,"g":"expr"},{"x":-0.24,"y":-4.35,"g":"expr"},{"x":0.7,"y":-4.14,"g":"expr"},{"x":0.98,"y":-4.0,"g":"expr"},{"x":1.5,"y":-3.64,"g":"expr"},{"x":2.06,"y":-3.03,"g":"expr"},{"x":-1.05,"y":-3.1,"g":"expr"},{"x":-1.75,"y":-3.45,"g":"expr"},{"x":-1.4,"y":-2.74,"g":"expr"},{"x":-2.1,"y":-2.6,"g":"expr"},{"x":-0.35,"y":-2.45,"g":"expr"},{"x":0.7,"y":-2.6,"g":"expr"},{"x":1.05,"y":-2.18,"g":"expr"},{"x":1.75,"y":-1.9,"g":"expr"},{"x":2.62,"y":-1.04,"g":"expr"},{"x":2.97,"y":-0.47,"g":"expr"},{"x":2.8,"y":1.24,"g":"expr"},{"x":2.97,"y":1.8,"g":"expr"},{"x":2.44,"y":2.29,"g":"expr"},{"x":1.92,"y":2.64,"g":"expr"},{"x":-1.92,"y":1.87,"g":"expr"},{"x":-1.57,"y":2.23,"g":"expr"},{"x":-3.18,"y":-0.45,"g":"expr"},{"x":-2.66,"y":-1.02,"g":"expr"},{"x":-2.1,"y":-1.58,"g":"expr"},{"x":-1.4,"y":-2.08,"g":"expr"},{"x":-5.8,"y":0.05,"g":"expr"},{"x":-3.8,"y":0.02,"g":"expr"},{"x":-3.3,"y":-0.05,"g":"expr"},{"x":-2.8,"y":0.0,"g":"expr"},
{"x":-2.2,"y":0.9,"g":"expr"},{"x":-2.4,"y":0.2,"g":"expr"},{"x":-2.3,"y":-0.4,"g":"expr"},{"x":-2.2,"y":-0.9,"g":"expr"},{"x":-1.9,"y":-1.3,"g":"expr"},{"x":-1.7,"y":-1.8,"g":"expr"},{"x":-1.2,"y":-2.2,"g":"expr"},{"x":-0.7,"y":-2.5,"g":"expr"},{"x":0.1,"y":-2.3,"g":"expr"},{"x":0.8,"y":-2.1,"g":"expr"},{"x":1.3,"y":-1.7,"g":"expr"},{"x":1.9,"y":-1.2,"g":"expr"},{"x":2.3,"y":-0.6,"g":"expr"},{"x":2.5,"y":0.0,"g":"expr"},{"x":2.5,"y":0.6,"g":"expr"},{"x":2.4,"y":1.1,"g":"expr"},{"x":2.4,"y":1.6,"g":"expr"},{"x":2.3,"y":2.1,"g":"expr"},{"x":2.0,"y":2.7,"g":"expr"},{"x":1.6,"y":3.0,"g":"expr"},{"x":1.0,"y":3.1,"g":"expr"},{"x":0.4,"y":3.0,"g":"expr"},{"x":-0.2,"y":2.8,"g":"expr"},{"x":-0.7,"y":2.5,"g":"expr"},{"x":-1.2,"y":2.1,"g":"expr"},{"x":-1.5,"y":1.6,"g":"expr"},{"x":-1.8,"y":1.3,"g":"expr"},{"x":-2.6,"y":0.5,"g":"expr"},{"x":-2.9,"y":-0.2,"g":"expr"},{"x":-2.7,"y":-0.7,"g":"expr"},{"x":-2.5,"y":-1.4,"g":"expr"},{"x":-2.0,"y":-2.0,"g":"expr"},{"x":-0.9,"y":-2.9,"g":"expr"},{"x":0.3,"y":-3.0,"g":"expr"},{"x":1.2,"y":-2.6,"g":"expr"},{"x":1.5,"y":-2.3,"g":"expr"},{"x":2.2,"y":-1.5,"g":"expr"},{"x":3.1,"y":0.3,"g":"expr"},{"x":2.8,"y":0.7,"g":"expr"},{"x":2.7,"y":2.6,"g":"expr"},{"x":-1.0,"y":2.9,"g":"expr"},{"x":-0.4,"y":3.2,"g":"expr"},{"x":3.3,"y":1.4,"g":"expr"},{"x":-3.6,"y":-1.2,"g":"expr"},{"x":-3.4,"y":-2.0,"g":"expr"},{"x":-3.2,"y":-2.4,"g":"expr"},{"x":-0.6,"y":-3.6,"g":"expr"},{"x":0.4,"y":-3.5,"g":"expr"},{"x":-2.0,"y":-3.9,"g":"expr"},{"x":-1.4,"y":-4.4,"g":"expr"},{"x":-2.2,"y":-3.3,"g":"expr"},{"x":1.0,"y":-3.2,"g":"expr"},{"x":2.2,"y":-2.5,"g":"expr"},
{"x":0,"y":3.39,"g":"neCuff"},{"x":0,"y":2.65,"g":"neCuff"},{"x":0,"y":2.53,"g":"neCuff"},{"x":0,"y":2.41,"g":"neCuff"},{"x":0,"y":2.29,"g":"neCuff"},{"x":0,"y":2.17,"g":"neCuff"},{"x":0,"y":2.05,"g":"neCuff"},{"x":0,"y":1.93,"g":"neCuff"},{"x":0,"y":1.81,"g":"neCuff"},{"x":0,"y":1.69,"g":"neCuff"},{"x":0,"y":1.57,"g":"neCuff"},{"x":0,"y":1.45,"g":"neCuff"},{"x":0,"y":1.33,"g":"neCuff"},{"x":0,"y":1.21,"g":"neCuff"},{"x":0,"y":1.09,"g":"neCuff"},{"x":0,"y":0.97,"g":"neCuff"},{"x":0,"y":0.85,"g":"neCuff"},{"x":0,"y":0.73,"g":"neCuff"},{"x":0,"y":0.61,"g":"neCuff"},{"x":0,"y":0.49,"g":"neCuff"},{"x":0,"y":0.37,"g":"neCuff"},{"x":0,"y":0.25,"g":"neCuff"},{"x":0,"y":0.13,"g":"neCuff"},{"x":0,"y":0.01,"g":"neCuff"},{"x":0,"y":-0.11,"g":"neCuff"},{"x":0,"y":-0.23,"g":"neCuff"},{"x":0,"y":-0.35,"g":"neCuff"},{"x":0,"y":-0.47,"g":"neCuff"},{"x":0,"y":-0.59,"g":"neCuff"},{"x":0,"y":-0.71,"g":"neCuff"},{"x":0,"y":-0.83,"g":"neCuff"},{"x":0,"y":-0.95,"g":"neCuff"},{"x":0,"y":-1.07,"g":"neCuff"},{"x":0,"y":-1.19,"g":"neCuff"},{"x":0,"y":-1.31,"g":"neCuff"},{"x":0,"y":-1.43,"g":"neCuff"},{"x":0,"y":-1.55,"g":"neCuff"},{"x":0,"y":-1.67,"g":"neCuff"},{"x":0,"y":-1.79,"g":"neCuff"},{"x":0,"y":-1.91,"g":"neCuff"},{"x":0,"y":-2.03,"g":"neCuff"},{"x":0,"y":-2.4,"g":"neCuff"},{"x":0,"y":-2.55,"g":"neCuff"},{"x":0,"y":-2.9,"g":"neCuff"},{"x":0,"y":-4.4,"g":"neCuff"},{"x":0,"y":-4.55,"g":"neCuff"},{"x":0,"y":-4.7,"g":"neCuff"},{"x":0,"y":-5.26,"g":"neCuff"},
{"x":-21.79,"y":4.85,"g":"infCuff"},{"x":-21.79,"y":2.2,"g":"infCuff"},{"x":-21.79,"y":1.95,"g":"infCuff"},{"x":-21.79,"y":1.74,"g":"infCuff"},{"x":-21.79,"y":1.53,"g":"infCuff"},{"x":-21.79,"y":1.3,"g":"infCuff"},{"x":-21.79,"y":1.15,"g":"infCuff"},{"x":-21.79,"y":1.0,"g":"infCuff"},{"x":-21.79,"y":0.85,"g":"infCuff"},{"x":-21.79,"y":0.7,"g":"infCuff"},{"x":-21.79,"y":0.55,"g":"infCuff"},{"x":-21.79,"y":0.4,"g":"infCuff"},{"x":-21.79,"y":0.25,"g":"infCuff"},{"x":-21.79,"y":0.1,"g":"infCuff"},{"x":-21.79,"y":-0.05,"g":"infCuff"},{"x":-21.79,"y":-0.2,"g":"infCuff"},{"x":-21.79,"y":-0.35,"g":"infCuff"},{"x":-21.79,"y":-0.5,"g":"infCuff"},{"x":-21.79,"y":-0.65,"g":"infCuff"},{"x":-21.79,"y":-0.8,"g":"infCuff"},{"x":-21.79,"y":-0.95,"g":"infCuff"},{"x":-21.79,"y":-1.1,"g":"infCuff"},{"x":-21.79,"y":-1.25,"g":"infCuff"},{"x":-21.79,"y":-1.4,"g":"infCuff"},{"x":-21.79,"y":-1.55,"g":"infCuff"},{"x":-21.79,"y":-1.7,"g":"infCuff"},{"x":-21.79,"y":-1.85,"g":"infCuff"},{"x":-21.79,"y":-2.0,"g":"infCuff"},{"x":-21.79,"y":-2.15,"g":"infCuff"},{"x":-21.79,"y":-2.35,"g":"infCuff"},{"x":-21.79,"y":-2.55,"g":"infCuff"},{"x":-21.79,"y":-2.8,"g":"infCuff"},{"x":-21.79,"y":-3.1,"g":"infCuff"},{"x":-21.79,"y":-3.35,"g":"infCuff"},{"x":-21.79,"y":-3.55,"g":"infCuff"},{"x":-21.79,"y":-3.8,"g":"infCuff"},{"x":-21.79,"y":-4.55,"g":"infCuff"},{"x":-21.79,"y":-4.77,"g":"infCuff"},{"x":-21.79,"y":-5.33,"g":"infCuff"},
{"x":11.92,"y":4.21,"g":"infCuff"},{"x":11.92,"y":3.39,"g":"infCuff"},{"x":11.92,"y":2.6,"g":"infCuff"},{"x":11.92,"y":2.38,"g":"infCuff"},{"x":11.92,"y":1.89,"g":"infCuff"},{"x":11.92,"y":1.53,"g":"infCuff"},{"x":11.92,"y":1.24,"g":"infCuff"},{"x":11.92,"y":1.09,"g":"infCuff"},{"x":11.92,"y":0.94,"g":"infCuff"},{"x":11.92,"y":0.79,"g":"infCuff"},{"x":11.92,"y":0.64,"g":"infCuff"},{"x":11.92,"y":0.49,"g":"infCuff"},{"x":11.92,"y":0.34,"g":"infCuff"},{"x":11.92,"y":0.19,"g":"infCuff"},{"x":11.92,"y":0.04,"g":"infCuff"},{"x":11.92,"y":-0.11,"g":"infCuff"},{"x":11.92,"y":-0.26,"g":"infCuff"},{"x":11.92,"y":-0.41,"g":"infCuff"},{"x":11.92,"y":-0.56,"g":"infCuff"},{"x":11.92,"y":-0.71,"g":"infCuff"},{"x":11.92,"y":-0.86,"g":"infCuff"},{"x":11.92,"y":-1.01,"g":"infCuff"},{"x":11.92,"y":-1.38,"g":"infCuff"},{"x":11.92,"y":-1.66,"g":"infCuff"},{"x":11.92,"y":-2.12,"g":"infCuff"}
],
"captionBold": [
{"line": 1, "text": "Figure 3 Measuring gene expression"}
],
"caption": [
{"line": 1, "text": ". a) DEGseq vs. Cufflinks estimates of log2 fold changes between Large White and Iberian expressed"},
{"line": 2, "text": "genes. Blue and red points correspond not expressed genes in microarrays and Cufflinks, respectively. Light blue and light red points"},
{"line": 3, "text": "correspond to microarray and Cufflinks infinite values. b) Microrray vs. RNA-Seq individual measurements. The microarray data correspond to"},
{"line": 4, "text": "signal intensity difference between Large White and Iberian, whereas the RNA-Seq measurement is the log2 fold change as obtained from"},
{"line": 5, "text": "Cufflinks. c) Microarray breed z-score values vs. RNA-Seq log2 fold change. The Pearson’s correlations (r) were significant in each case (Pv < 2.2 ×"},
{"line": 6, "text": "10⁻¹⁶) and calculated considering only expressed genes and no infinite values."}
]
},
"concat": [
{
"hconcat": [
{"width": 1, "height": 1, "data": {"values": []}, "mark": "point", "view": {"stroke": null}},
{
"width": 347, "height": 350,
"title": {"text": "a)", "dx": 15},
"encoding": {
  "x": {"field": "x", "type": "quantitative", "scale": {"domain": [-23, 11], "nice": false, "zero": false}, "axis": {"title": "log2(FC) Cufflinks", "values": [-20, -15, -10, -5, 0, 5, 10], "labelExpr": "'' + datum.value"}},
  "y": {"field": "y", "type": "quantitative", "scale": {"domain": [-10.82, 6.35], "nice": false, "zero": false}, "axis": {"title": "log2(FC) DEGseq", "values": [-10, -5, 0, 5], "labelAngle": -90, "labelAlign": "center", "labelBaseline": "bottom", "labelExpr": "'' + datum.value"}}
},
"layer": [
{"data": {"name": "aCore"}, "mark": {"type": "circle", "size": 55, "color": "#000000", "opacity": 1}},
{"data": {"name": "a"}, "mark": {"type": "circle", "size": 9, "opacity": 1},
 "encoding": {
  "color": {"field": "g", "type": "nominal", "scale": {"domain": ["expr", "neArr", "neCuff", "infCuff", "infArr"], "range": ["#000000", "#3b57a8", "#e8262b", "#f0b2bf", "#a8d4e2"]}, "legend": null}
 }},
{"data": {"values": [{"r": "r=0.96"}]}, "mark": {"type": "text", "align": "right", "baseline": "middle", "font": "Liberation Sans", "fontSize": 17, "color": "#111111"},
 "encoding": {"x": {"datum": 9.35, "type": "quantitative", "title": "log2(FC) Cufflinks"}, "y": {"datum": -9.1, "type": "quantitative", "title": "log2(FC) DEGseq"}, "text": {"field": "r"}}}
]
},
{
"width": 347, "height": 350,
"title": {"text": "b)", "dx": 9},
"encoding": {
  "x": {"field": "x", "type": "quantitative", "scale": {"domain": [-23.14, 13.38], "nice": false, "zero": false}, "axis": {"title": "log2(FC) Cufflinks", "values": [-20, -15, -10, -5, 0, 5, 10], "labelExpr": "'' + datum.value"}},
  "y": {"field": "y", "type": "quantitative", "scale": {"domain": [-8.9, 5.65], "nice": false, "zero": false}, "axis": {"title": "microarray signal difference", "values": [-8, -6, -4, -2, 0, 2, 4], "labelAngle": -90, "labelAlign": "center", "labelBaseline": "bottom", "labelExpr": "'' + datum.value"}}
},
"layer": [
{"data": {"name": "bCore"}, "mark": {"type": "circle", "size": 60, "color": "#000000", "opacity": 1}},
{"data": {"name": "b"}, "mark": {"type": "circle", "size": 9, "opacity": 1},
 "encoding": {
  "color": {"field": "g", "type": "nominal", "scale": {"domain": ["expr", "neArr", "neCuff", "infCuff", "infArr"], "range": ["#000000", "#3b57a8", "#e8262b", "#f0b2bf", "#a8d4e2"]}, "legend": null}
 }},
{"data": {"values": [{"r": "r=0.70"}]}, "mark": {"type": "text", "align": "right", "baseline": "middle", "font": "Liberation Sans", "fontSize": 17, "color": "#111111"},
 "encoding": {"x": {"datum": 12.2, "type": "quantitative", "title": "log2(FC) Cufflinks"}, "y": {"datum": -7.43, "type": "quantitative", "title": "microarray signal difference"}, "text": {"field": "r"}}}
]
},
{
"width": 347, "height": 350,
"title": {"text": "c)", "dx": 11},
"encoding": {
  "x": {"field": "x", "type": "quantitative", "scale": {"domain": [-23.18, 13.32], "nice": false, "zero": false}, "axis": {"title": "log2(FC) Cufflinks", "values": [-20, -15, -10, -5, 0, 5, 10], "labelExpr": "'' + datum.value"}},
  "y": {"field": "y", "type": "quantitative", "scale": {"domain": [-9.33, 5.51], "nice": false, "zero": false}, "axis": {"title": "microarray z score", "values": [-8, -6, -4, -2, 0, 2, 4], "labelAngle": -90, "labelAlign": "center", "labelBaseline": "bottom", "labelExpr": "'' + datum.value"}}
},
"layer": [
{"data": {"name": "cCore"}, "mark": {"type": "circle", "size": 60, "color": "#000000", "opacity": 1}},
{"data": {"name": "c"}, "mark": {"type": "circle", "size": 9, "opacity": 1},
 "encoding": {
  "color": {"field": "g", "type": "nominal", "scale": {"domain": ["expr", "neArr", "neCuff", "infCuff", "infArr"], "range": ["#000000", "#3b57a8", "#e8262b", "#f0b2bf", "#a8d4e2"]}, "legend": null}
 }},
{"data": {"values": [{"r": "r=0.42"}]}, "mark": {"type": "text", "align": "right", "baseline": "middle", "font": "Liberation Sans", "fontSize": 17, "color": "#111111"},
 "encoding": {"x": {"datum": 11.15, "type": "quantitative", "title": "log2(FC) Cufflinks"}, "y": {"datum": -7.83, "type": "quantitative", "title": "microarray z score"}, "text": {"field": "r"}}}
]
}
],
"spacing": 76,
"bounds": "flush"
},
{
"hconcat": [
{"width": 1, "height": 1, "data": {"values": []}, "mark": "point", "view": {"stroke": null}},
{
"width": 1282, "height": 645,
"view": {"stroke": "#3a3a3a", "strokeWidth": 1.5, "cornerRadius": 9},
"layer": [
{"data": {"name": "captionBold"}, "mark": {"type": "text", "align": "left", "baseline": "middle", "font": "Open Sans", "fontSize": 18.5, "fontWeight": "bold", "color": "#231f20"},
 "encoding": {
  "x": {"datum": 0, "type": "quantitative", "scale": {"domain": [-18, 1264], "nice": false, "zero": false}, "axis": null},
  "y": {"field": "line", "type": "quantitative", "scale": {"domain": [-19.542, 7.333], "reverse": true, "nice": false, "zero": false}, "axis": null},
  "text": {"field": "text"}
 }},
{"data": {"name": "caption"}, "transform": [{"filter": "datum.line == 1"}], "mark": {"type": "text", "align": "left", "baseline": "middle", "font": "Open Sans", "fontSize": 18.5, "color": "#231f20"},
 "encoding": {
  "x": {"datum": 331, "type": "quantitative", "axis": null},
  "y": {"field": "line", "type": "quantitative", "axis": null},
  "text": {"field": "text"}
 }},
{"data": {"name": "caption"}, "transform": [{"filter": "datum.line > 1"}], "mark": {"type": "text", "align": "left", "baseline": "middle", "font": "Open Sans", "fontSize": 18.5, "color": "#231f20"},
 "encoding": {
  "x": {"datum": 0, "type": "quantitative", "axis": null},
  "y": {"field": "line", "type": "quantitative", "axis": null},
  "text": {"field": "text"}
 }}
]
}
],
"spacing": 8,
"bounds": "flush"
}
],
"columns": 1,
"align": "none",
"spacing": -459
}
